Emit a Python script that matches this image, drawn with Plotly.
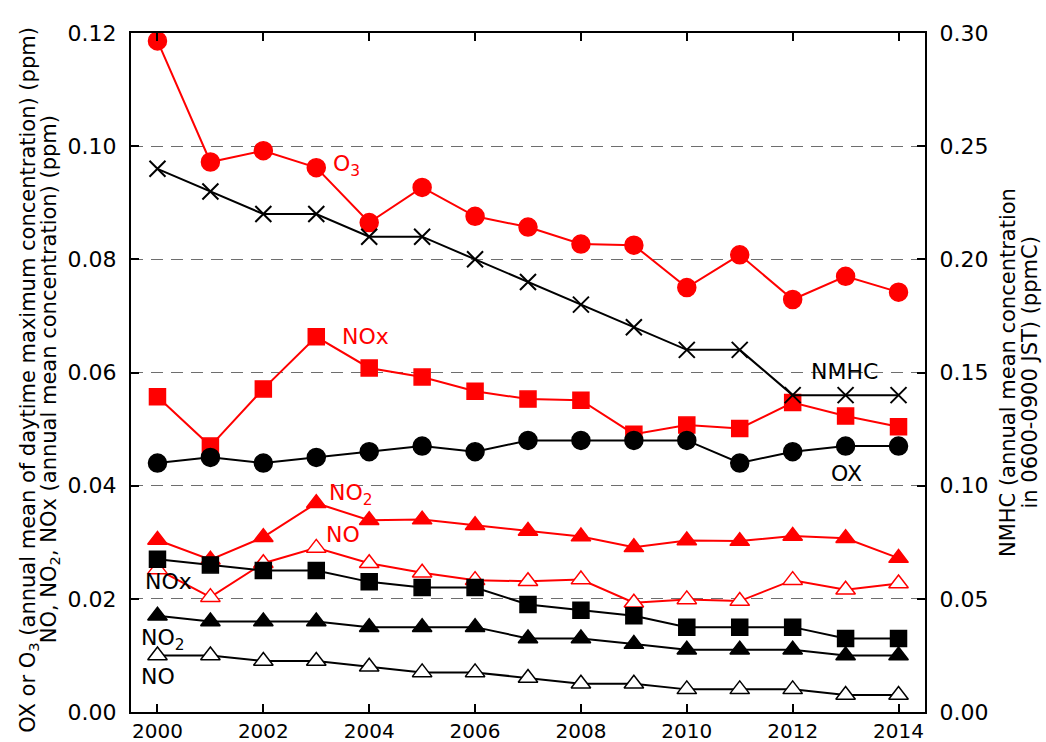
import plotly.graph_objects as go

years = list(range(2000, 2015))

# ppm, left axis
o3 = [0.1186, 0.0972, 0.0992, 0.0962, 0.0865, 0.0927, 0.0876, 0.0857,
      0.0827, 0.0825, 0.0750, 0.0808, 0.0729, 0.0770, 0.0742]
nox_red = [0.0557, 0.0470, 0.0571, 0.0663, 0.0608, 0.0592, 0.0567, 0.0553,
           0.0551, 0.0491, 0.0507, 0.0501, 0.0547, 0.0523, 0.0504]
no2_red = [0.0304, 0.0269, 0.0309, 0.0369, 0.0339, 0.0340, 0.0330, 0.0320,
           0.0310, 0.0291, 0.0303, 0.0302, 0.0311, 0.0307, 0.0272]
no_red = [0.0252, 0.0203, 0.0263, 0.0290, 0.0263, 0.0246, 0.0233, 0.0231,
          0.0234, 0.0193, 0.0199, 0.0196, 0.0233, 0.0216, 0.0227]
ox = [0.044, 0.045, 0.044, 0.045, 0.046, 0.047, 0.046, 0.048,
      0.048, 0.048, 0.048, 0.044, 0.046, 0.047, 0.047]
nox_blk = [0.027, 0.026, 0.025, 0.025, 0.023, 0.022, 0.022, 0.019,
           0.018, 0.017, 0.015, 0.015, 0.015, 0.013, 0.013]
no2_blk = [0.017, 0.016, 0.016, 0.016, 0.015, 0.015, 0.015, 0.013,
           0.013, 0.012, 0.011, 0.011, 0.011, 0.010, 0.010]
no_blk = [0.010, 0.010, 0.009, 0.009, 0.008, 0.007, 0.007, 0.006,
          0.005, 0.005, 0.004, 0.004, 0.004, 0.003, 0.003]
# ppmC, right axis
nmhc = [0.24, 0.23, 0.22, 0.22, 0.21, 0.21, 0.20, 0.19,
        0.18, 0.17, 0.16, 0.16, 0.14, 0.14, 0.14]

RED = "#ff0000"
BLK = "#000000"
FONT = "DejaVu Sans"

fig = go.Figure()


def series(y, color, symbol, size, fill=None, yaxis="y", lw=1.5):
    fig.add_trace(go.Scatter(
        x=years, y=y, mode="lines+markers", yaxis=yaxis,
        line=dict(color=color, width=2),
        marker=dict(symbol=symbol, size=size,
                    color=fill if fill else color,
                    line=dict(color=color, width=lw)),
        showlegend=False, cliponaxis=False,
    ))


series(o3, RED, "circle", 18)
series(nox_red, RED, "square", 16)
series(no2_red, RED, "triangle-up", 17)
series(no_red, RED, "triangle-up", 17, fill="white")
series(ox, BLK, "circle", 18)
series(nox_blk, BLK, "square", 16)
series(no2_blk, BLK, "triangle-up", 17)
series(no_blk, BLK, "triangle-up", 17, fill="white")
series(nmhc, BLK, "x-thin", 16, yaxis="y2", lw=2)

labels = [
    (2003.28, 0.0965, "O<sub>3</sub>", RED),
    (2003.45, 0.0663, "NOx", RED),
    (2003.2, 0.0385, "NO<sub>2</sub>", RED),
    (2003.15, 0.0313, "NO", RED),
    (2012.3, 0.0601, "NMHC", BLK),
    (2012.68, 0.0421, "OX", BLK),
    (1999.72, 0.0230, "NOx", BLK),
    (1999.66, 0.0128, "NO<sub>2</sub>", BLK),
    (1999.66, 0.0062, "NO", BLK),
]
for x, y, t, c in labels:
    fig.add_annotation(x=x, y=y, text=t, showarrow=False, xanchor="left",
                       yanchor="middle", font=dict(family=FONT, size=22, color=c))

# axis titles, one annotation per line
TF = dict(family=FONT, size=21, color=BLK)
titles = [
    (-0.128, 0.49,
     "OX or O<sub>3</sub> (annual mean of daytime maximum concentration) (ppm)"),
    (-0.102, 0.49, "NO, NO<sub>2</sub>, NOx (annual mean concentration) (ppm)"),
    (1.104, 0.5, "NMHC (annual mean concentration"),
    (1.131, 0.5, "in 0600-0900 JST) (ppmC)"),
]
for x, y, t in titles:
    fig.add_annotation(x=x, y=y, xref="paper", yref="paper", text=t,
                       showarrow=False, textangle=-90, xanchor="center",
                       yanchor="middle", font=TF)

tickfont = dict(family=FONT, size=22, color=BLK)
fig.update_layout(
    width=1046, height=742,
    margin=dict(l=131, r=121, t=33, b=30, autoexpand=False),
    paper_bgcolor="white", plot_bgcolor="white",
    xaxis=dict(range=[1999.5, 2014.5], tickvals=list(range(2000, 2015, 2)),
               ticks="inside", ticklen=8, tickwidth=1.5, tickcolor=BLK,
               showline=True, linecolor=BLK, linewidth=2, mirror="ticks",
               showgrid=False, zeroline=False,
               tickfont=dict(family=FONT, size=20, color=BLK),
               ticklabelstandoff=0, automargin=False),
    yaxis=dict(range=[0, 0.12], tickvals=[0, 0.02, 0.04, 0.06, 0.08, 0.10, 0.12],
               tickformat=".2f", ticks="inside", ticklen=8, tickwidth=1.5,
               tickcolor=BLK, showline=True, linecolor=BLK, linewidth=2,
               showgrid=True, gridcolor="#6e6e6e", gridwidth=1.3,
               griddash="12px,8px", zeroline=False, tickfont=tickfont,
               ticklabelstandoff=8, automargin=False),
    yaxis2=dict(range=[0, 0.30], tickvals=[0, 0.05, 0.10, 0.15, 0.20, 0.25, 0.30],
                tickformat=".2f", overlaying="y", side="right",
                ticks="inside", ticklen=8, tickwidth=1.5, tickcolor=BLK,
                showline=True, linecolor=BLK, linewidth=2, showgrid=False,
                zeroline=False, tickfont=tickfont, ticklabelstandoff=8,
                automargin=False),
)

fig.write_html("out.html")
